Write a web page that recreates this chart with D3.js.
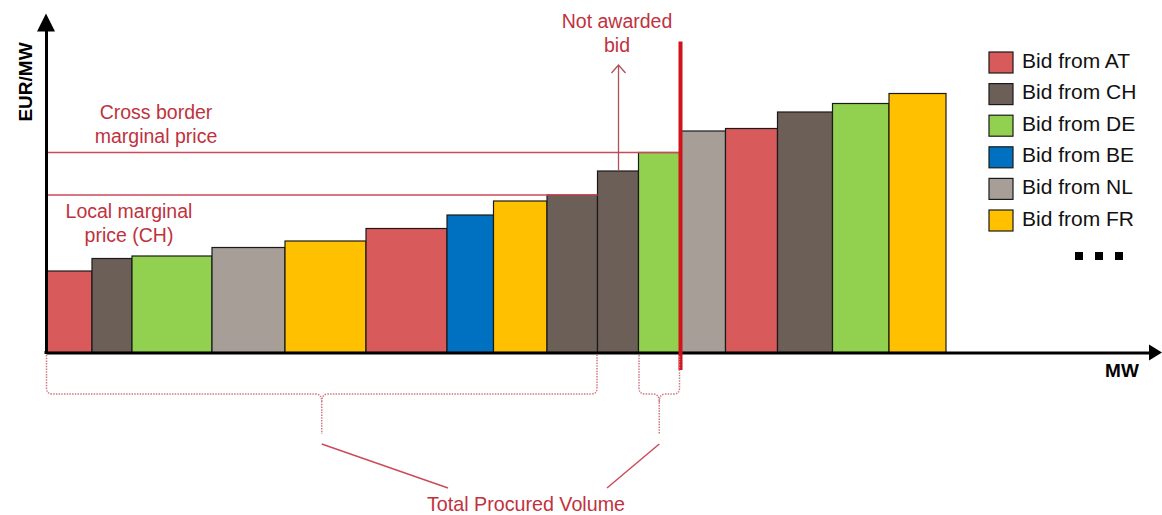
<!DOCTYPE html>
<html>
<head>
<meta charset="utf-8">
<script src="https://cdn.jsdelivr.net/npm/d3@7"></script>
<style>
  html, body { margin: 0; padding: 0; background: #fff; }
  svg { display: block; font-family: Arial, "Liberation Sans", sans-serif; }
</style>
</head>
<body>
<div id="chart"></div>
<script>
// bids in merit order (volume in MW, price in EUR/MW, arbitrary units)
const bidCountries = ["AT", "CH", "DE", "NL", "FR", "AT", "BE", "FR", "CH", "CH", "DE", "NL", "AT", "CH", "DE", "FR"];
const bidVolumes = [46, 40, 80, 73, 81, 81, 46.5, 53.5, 50.5, 41, 41.5, 45.5, 52, 55, 56.5, 57];
const bidPrices = [81.5, 94, 96.5, 105, 111.5, 124, 137.5, 151.5, 157.5, 181.5, 200, 221.5, 224, 240.5, 249, 259];

const legendCountries = ["AT", "CH", "DE", "BE", "NL", "FR"];
const legendLabels = ["Bid from AT", "Bid from CH", "Bid from DE", "Bid from BE", "Bid from NL", "Bid from FR"];

const localMarginalIndex = 8;    // last awarded CH bid
const notAwardedIndex = 9;       // CH bid skipped
const crossBorderIndex = 10;     // last awarded bid overall
const volumeMax = 1104;
const priceMax = 322;

const countryColor = d3.scaleOrdinal()
    .domain(legendCountries)
    .range(["#d95a5a", "#6b5f57", "#92d050", "#0070c0", "#a69e97", "#ffc000"]);

const width = 1162, height = 515;
const textRed = "#c0323e";
const lineRed = "#cc4a5a";

const svg = d3.select("#chart").append("svg")
    .attr("width", width)
    .attr("height", height);

const x = d3.scaleLinear().domain([0, volumeMax]).range([46, 1150]);
const y = d3.scaleLinear().domain([0, priceMax]).range([352.5, 30.5]);

// cumulative start of each bid
let acc = 0;
const bids = bidVolumes.map(function(v, i) {
    const b = { country: bidCountries[i], start: acc, end: acc + v, price: bidPrices[i] };
    acc += v;
    return b;
});

// bars
svg.append("g")
    .selectAll("rect").data(bids)
    .enter()
    .append("rect")
    .attr("x", d => x(d.start))
    .attr("y", d => y(d.price))
    .attr("width", d => x(d.end) - x(d.start))
    .attr("height", d => y(0) - y(d.price))
    .attr("fill", d => countryColor(d.country))
    .attr("stroke", "#1a1a1a")
    .attr("stroke-width", 1.2);

// marginal price lines
const priceLines = [
    { price: bidPrices[crossBorderIndex], end: bids[crossBorderIndex].end },
    { price: bidPrices[localMarginalIndex], end: bids[localMarginalIndex].end }
];
svg.append("g")
    .selectAll("line").data(priceLines)
    .enter()
    .append("line")
    .attr("x1", x(0))
    .attr("x2", d => x(d.end))
    .attr("y1", d => y(d.price))
    .attr("y2", d => y(d.price))
    .attr("stroke", lineRed)
    .attr("stroke-width", 1.5);

// axes
const xAxis = svg.append("g")
    .attr("transform", "translate(0," + y(0) + ")")
    .call(d3.axisBottom(x).tickValues([]).tickSizeOuter(0));
const yAxis = svg.append("g")
    .attr("transform", "translate(" + x(0) + ",0)")
    .call(d3.axisLeft(y).tickValues([]).tickSizeOuter(0));
[xAxis, yAxis].forEach(function(a) {
    a.select(".domain").attr("stroke", "#000").attr("stroke-width", 3);
});
svg.append("line")
    .attr("x1", x(0) - 1.5).attr("x2", x(0) + 2)
    .attr("y1", y(0)).attr("y2", y(0))
    .attr("stroke", "#000").attr("stroke-width", 3);

// arrow heads
svg.append("path")
    .attr("d", "M" + (x(volumeMax) - 1) + "," + (y(0) - 8) + "L" + (x(volumeMax) + 12) + "," + y(0) + "L" + (x(volumeMax) - 1) + "," + (y(0) + 8) + "Z")
    .attr("fill", "#000");
svg.append("path")
    .attr("d", "M" + (x(0) - 9) + "," + (y(priceMax) + 1) + "L" + x(0) + "," + (y(priceMax) - 17) + "L" + (x(0) + 9) + "," + (y(priceMax) + 1) + "Z")
    .attr("fill", "#000");

svg.append("text")
    .attr("transform", "translate(32,82) rotate(-90)")
    .attr("text-anchor", "middle")
    .attr("font-weight", "bold")
    .attr("font-size", 19)
    .text("EUR/MW");
svg.append("text")
    .attr("x", 1122).attr("y", 377)
    .attr("text-anchor", "middle")
    .attr("font-weight", "bold")
    .attr("font-size", 19)
    .text("MW");

// market clearing line
svg.append("line")
    .attr("x1", x(bids[crossBorderIndex].end) + 0.5)
    .attr("x2", x(bids[crossBorderIndex].end) + 0.5)
    .attr("y1", 41.5).attr("y2", 370)
    .attr("stroke", "#d0121b")
    .attr("stroke-width", 4);

// not awarded arrow
const nx = x((bids[notAwardedIndex].start + bids[notAwardedIndex].end) / 2) + 0.5;
svg.append("path")
    .attr("d", "M" + nx + "," + y(bidPrices[notAwardedIndex]) + "V65 M" + (nx - 7) + ",73 L" + nx + ",65 L" + (nx + 7) + ",73")
    .attr("fill", "none")
    .attr("stroke", "#b0505a")
    .attr("stroke-width", 1.3);

// annotations
const notes = [
    { lines: ["Cross border", "marginal price"], x: 156, y: 119 },
    { lines: ["Local marginal", "price (CH)"], x: 129, y: 218 },
    { lines: ["Not awarded", "bid"], x: 617, y: 28 }
];
notes.forEach(function(n) {
    const t = svg.append("text")
        .attr("text-anchor", "middle")
        .attr("font-size", 19.5)
        .attr("fill", textRed);
    n.lines.forEach(function(l, i) {
        t.append("tspan").attr("x", n.x).attr("y", n.y + i * 23.5).text(l);
    });
});

// braces under the awarded volume
const braces = [
    { from: bids[0].start, to: bids[localMarginalIndex].end },
    { from: bids[crossBorderIndex].start, to: bids[crossBorderIndex].end }
];
const braceTop = 355, braceBottom = 394, tipEnd = 434;
braces.forEach(function(b) {
    const x0 = x(b.from) + 0.5, x1 = x(b.to) - 0.5, m = (x0 + x1) / 2;
    const r = Math.min(6, (x1 - x0) / 6);
    const d = "M" + x0 + "," + braceTop + "V" + (braceBottom - r) + "Q" + x0 + "," + braceBottom + " " + (x0 + r) + "," + braceBottom +
        "H" + (m - 6) + "Q" + m + "," + braceBottom + " " + m + "," + (braceBottom + 8) + "V" + tipEnd +
        "M" + m + "," + (braceBottom + 8) + "Q" + m + "," + braceBottom + " " + (m + 6) + "," + braceBottom +
        "H" + (x1 - r) + "Q" + x1 + "," + braceBottom + " " + x1 + "," + (braceBottom - r) + "V" + braceTop;
    b.tip = m;
    svg.append("path")
        .attr("d", d)
        .attr("fill", "none")
        .attr("stroke", "#d07a85")
        .attr("stroke-width", 1.5)
        .attr("stroke-dasharray", "1.5 1.2");
});

// leaders to the label
const leaderEnds = [448, 607];
braces.forEach(function(b, i) {
    svg.append("line")
        .attr("x1", b.tip).attr("y1", 444)
        .attr("x2", leaderEnds[i]).attr("y2", 488)
        .attr("stroke", lineRed)
        .attr("stroke-width", 1.5);
});
svg.append("text")
    .attr("x", 427).attr("y", 511)
    .attr("font-size", 21)
    .attr("fill", textRed)
    .attr("textLength", 198)
    .attr("lengthAdjust", "spacingAndGlyphs")
    .text("Total Procured Volume");

// legend
const legend = svg.append("g")
    .selectAll("g").data(legendCountries)
    .enter()
    .append("g")
    .attr("transform", (d, i) => "translate(989," + (52 + i * 31.6) + ")");
legend.append("rect")
    .attr("width", 24).attr("height", 21)
    .attr("fill", d => countryColor(d))
    .attr("stroke", "#1a1a1a")
    .attr("stroke-width", 1.2);
legend.append("text")
    .attr("x", 33).attr("y", 15.5)
    .attr("font-size", 21)
    .attr("fill", "#111")
    .text((d, i) => legendLabels[i]);

// ellipsis
svg.append("g")
    .selectAll("rect").data([0, 1, 2])
    .enter()
    .append("rect")
    .attr("x", d => 1075 + d * 20)
    .attr("y", 252)
    .attr("width", 8).attr("height", 8)
    .attr("fill", "#000");
</script>
</body>
</html>
